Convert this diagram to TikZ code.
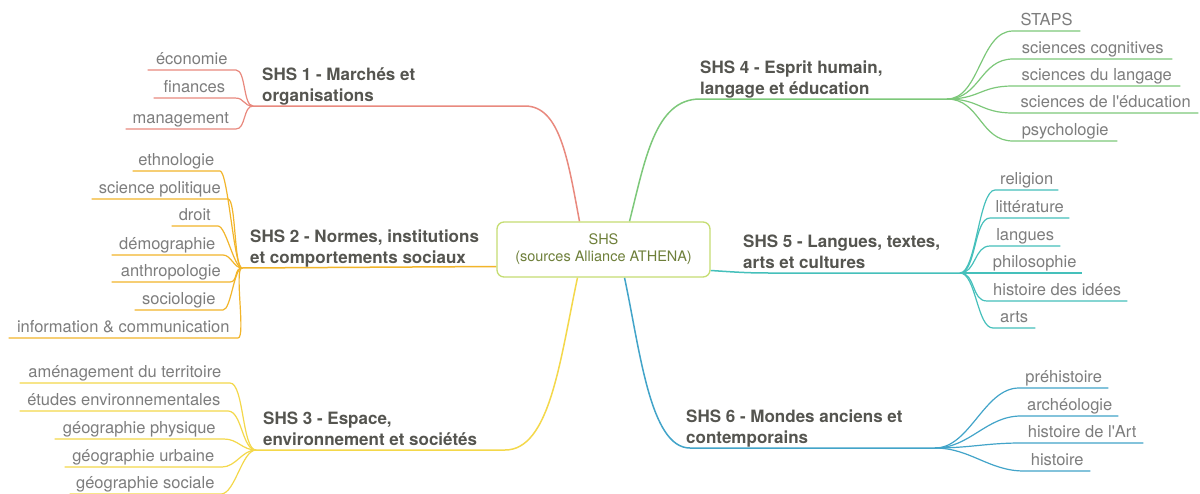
\documentclass[tikz,border=0pt]{standalone}
\usepackage{fontspec}
\setmainfont{TeX Gyre Heros}
\usetikzlibrary{calc,backgrounds}
\definecolor{cred}{HTML}{E9897E}
\definecolor{corange}{HTML}{F2B52A}
\definecolor{cyellow}{HTML}{F4D84A}
\definecolor{cgreen}{HTML}{7DC87A}
\definecolor{cteal}{HTML}{45C0BB}
\definecolor{cblue}{HTML}{42A4C9}
\definecolor{boxline}{HTML}{C5DD72}
\definecolor{boxtext}{HTML}{6E7F3A}
\definecolor{leafgray}{HTML}{7D7D7D}
\definecolor{titlegray}{HTML}{555550}
\newcommand\lfL[8]{%
  \node[leafL, minimum width=#5pt] (#1) at (#3,#4) {#6};
  \draw[twig,#2] (#1.south west) -- (#1.south east) .. controls ($(#1.south east)+(#8,0)$) and ($(#7)+(-#8,0)$) .. (#7);}
\newcommand\lfR[8]{%
  \node[leafR, minimum width=#5pt] (#1) at (#3,#4) {#6};
  \draw[twig,#2] (#7) .. controls ($(#7)+(#8,0)$) and ($(#1.south west)+(-#8,0)$) .. (#1.south west) -- (#1.south east);}
\begin{document}
\begin{tikzpicture}[x=1pt,y=-1pt,
  leaf/.style={font=\fontsize{16.5}{18}\selectfont, text=leafgray, inner xsep=2pt, inner ysep=1pt, text height=12pt, text depth=4pt},
  leafL/.style={leaf, anchor=south east},
  leafR/.style={leaf, anchor=south west},
  title/.style={font=\fontsize{17}{21}\selectfont\bfseries, text=titlegray, align=left, anchor=south west, inner sep=0pt, text depth=4.5pt},
  centre/.style={draw=boxline, fill=white, rounded corners=7pt, line width=1.3pt, minimum width=213pt, minimum height=55pt, align=center, text=boxtext, font=\fontsize{14.5}{17}\selectfont},
  main/.style={line width=1.5pt},
  twig/.style={line width=1.2pt}]
\useasboundingbox (0,0) rectangle (1200,493);
% hubs
\coordinate (h1) at (253,106);
\coordinate (h2) at (242,268);
\coordinate (h3) at (256,450);
\coordinate (h4) at (947,99);
\coordinate (h5) at (960,273);
\coordinate (h6) at (935,448);
% center node
\node[centre] (c) at (603.5,249.5) {SHS\\(sources Alliance ATHENA)};
% main branches, behind the centre node
\begin{scope}[on background layer]
\fill[white] (0,0) rectangle (1200,493);
\draw[main,cred] ([xshift=-24pt]c.north) .. controls (568,160) and (560,106) .. (525,106) -- (h1);
\draw[main,corange] ([yshift=-17pt]c.west) -- (h2);
\draw[main,cyellow] ([xshift=-26pt]c.south) .. controls (560,360) and (550,450) .. (505,450) -- (h3);
\draw[main,cgreen] ([xshift=26pt]c.north) .. controls (645,160) and (655,99) .. (700,99) -- (h4);
\draw[main,cteal] ([yshift=-21pt]c.east) .. controls (735,272) and (745,273) .. (770,273) -- (h5);
\draw[main,cblue] ([xshift=21pt]c.south) .. controls (640,350) and (650,448) .. (690,448) -- (h6);
\end{scope}
% titles
\node[title] (t1) at (262,106) {SHS 1 - Marchés et\\organisations};
\node[title] (t2) at (250,268) {SHS 2 - Normes, institutions\\et comportements sociaux};
\node[title] (t3) at (263,450) {SHS 3 - Espace,\\environnement et sociétés};
\node[title] (t4) at (700,99) {SHS 4 - Esprit humain,\\langage et éducation};
\node[title] (t5) at (743,273) {SHS 5 - Langues, textes,\\arts et cultures};
\node[title] (t6) at (686,448) {SHS 6 - Mondes anciens et\\contemporains};
% SHS1 leaves
\lfL{a1}{cred}{236}{70}{88}{économie}{h1}{10}
\lfL{a2}{cred}{235}{98}{81}{finances}{h1}{10}
\lfL{a3}{cred}{236}{129}{110}{management}{h1}{10}
% SHS2 leaves
\lfL{b1}{corange}{220}{171}{87}{ethnologie}{h2}{8}
\lfL{b2}{corange}{228}{199}{136}{science politique}{h2}{8}
\lfL{b3}{corange}{218}{226}{46}{droit}{h2}{8}
\lfL{b4}{corange}{223}{255}{111}{démographie}{h2}{8}
\lfL{b5}{corange}{230}{282}{118}{anthropologie}{h2}{8}
\lfL{b6}{corange}{223}{310}{88}{sociologie}{h2}{8}
\lfL{b7}{corange}{238}{338}{229}{information \& communication}{h2}{8}
% SHS3 leaves
\lfL{d1}{cyellow}{230}{383}{210}{aménagement du territoire}{h3}{14}
\lfL{d2}{cyellow}{228}{411}{208}{études environnementales}{h3}{14}
\lfL{d3}{cyellow}{224}{439}{169}{géographie physique}{h3}{14}
\lfL{d4}{cyellow}{222}{467}{157}{géographie urbaine}{h3}{14}
\lfL{d5}{cyellow}{221}{494}{151}{géographie sociale}{h3}{14}
% SHS4 leaves
\lfR{e1}{cgreen}{1013}{31}{67}{STAPS}{h4}{33}
\lfR{e2}{cgreen}{1013}{59}{159}{sciences cognitives}{h4}{33}
\lfR{e3}{cgreen}{1013}{86}{167}{sciences du langage}{h4}{33}
\lfR{e4}{cgreen}{1013}{113}{185}{sciences de l\textquotesingle éducation}{h4}{33}
\lfR{e5}{cgreen}{1013}{141}{104}{psychologie}{h4}{33}
% SHS5 leaves
\lfR{f1}{cteal}{995}{190}{63}{religion}{h5}{16}
\lfR{f2}{cteal}{990}{218}{79}{littérature}{h5}{16}
\lfR{f3}{cteal}{990}{246}{70}{langues}{h5}{16}
\lfR{f4}{cteal}{987}{273}{95}{philosophie}{h5}{16}
\lfR{f5}{cteal}{987}{301}{140}{histoire des idées}{h5}{16}
\lfR{f6}{cteal}{993}{328}{42}{arts}{h5}{16}
% SHS6 leaves
\lfR{g1}{cblue}{1019}{388}{89}{préhistoire}{h6}{35}
\lfR{g2}{cblue}{1021}{416}{97}{archéologie}{h6}{35}
\lfR{g3}{cblue}{1021}{443}{122}{histoire de l\textquotesingle Art}{h6}{35}
\lfR{g4}{cblue}{1024}{471}{66}{histoire}{h6}{35}
\end{tikzpicture}
\end{document}
